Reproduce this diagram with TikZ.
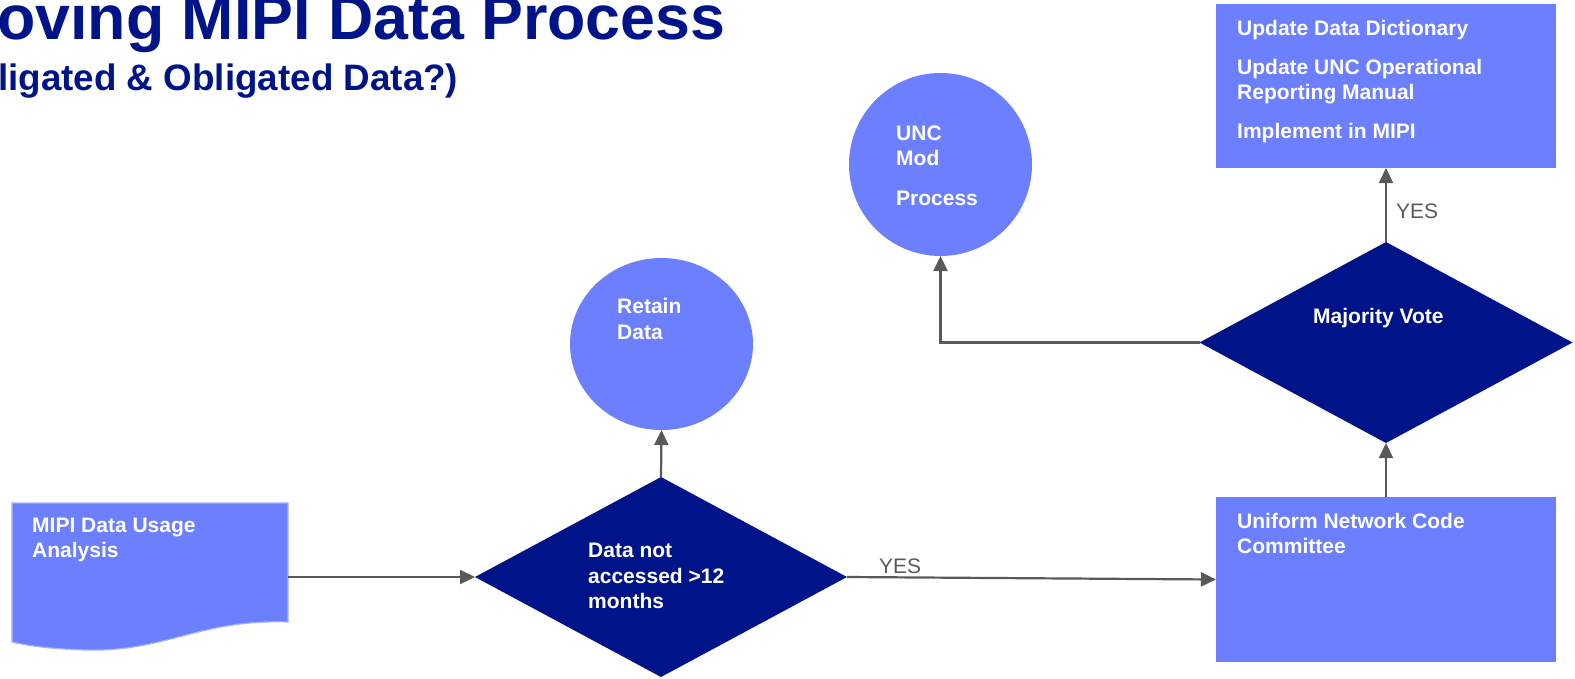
\documentclass[tikz,border=0pt]{standalone}
\usepackage{fontspec}
\setmainfont{Liberation Sans}
\usetikzlibrary{shapes.geometric,arrows.meta}
\definecolor{navy}{RGB}{0,20,137}
\definecolor{lblue}{RGB}{107,127,255}
\definecolor{lborder}{RGB}{165,178,255}
\definecolor{arrgray}{RGB}{89,89,89}
\begin{document}
\begin{tikzpicture}[x=1pt,y=-1pt,
  lbl/.style={anchor=base west, inner sep=0pt, text=white, font=\fontsize{21}{25}\selectfont\bfseries},
  yeslbl/.style={anchor=base west, inner sep=0pt, text=arrgray, font=\fontsize{21}{25}\selectfont},
  boxshape/.style={rectangle, fill=lblue, inner sep=0pt, outer sep=0pt},
  dshape/.style={diamond, fill=navy, inner sep=0pt, outer sep=0pt},
  cshape/.style={ellipse, fill=lblue, inner sep=0pt, outer sep=0pt},
  conn/.style={draw=arrgray, line width=2.2pt, -{Triangle[length=15pt,width=14pt]}},
  titlefont/.style={anchor=base west, inner sep=0pt, text=navy},
]
\useasboundingbox (0,0) rectangle (1575,678);

% title
\node[titlefont, font=\fontsize{62.7}{70}\selectfont\bfseries] (title1) at (-3,39) {oving MIPI Data Process};
\node[titlefont, font=\fontsize{36.8}{42}\selectfont\bfseries] (title2) at (-2,90) {ligated \& Obligated Data?)};

% document shape
\node[inner sep=0pt, outer sep=0pt, minimum width=276pt, minimum height=148pt] (doc) at (150,577) {};
\fill[lblue, draw=lborder, line width=1.2pt] (12,503) -- (288,503) -- (288,622)
  .. controls (200,619) and (165,652) .. (87,650)
  .. controls (50,649) and (30,646) .. (12,642) -- cycle;
\node[lbl] (docl1) at (32,532) {MIPI Data Usage};
\node[lbl] (docl2) at (32,557) {Analysis};

% decision 1
\node[dshape, minimum width=372pt, minimum height=200pt] (d1) at (661,577) {};
\node[lbl] (d1l1) at (588,557) {Data not};
\node[lbl] (d1l2) at (588,583) {accessed >12};
\node[lbl] (d1l3) at (588,608) {months};

% retain data
\node[cshape, minimum width=183pt, minimum height=172pt] (retain) at (661.5,344) {};
\node[lbl] (retl1) at (617,313) {Retain};
\node[lbl] (retl2) at (617,339) {Data};

% committee
\node[boxshape, minimum width=340pt, minimum height=165pt] (ucc) at (1386,579.5) {};
\node[lbl] (uccl1) at (1237,528) {Uniform Network Code};
\node[lbl] (uccl2) at (1237,553) {Committee};

% majority vote
\node[dshape, minimum width=373pt, minimum height=201pt] (mv) at (1386,342.5) {};
\node[lbl] (mvl) at (1313,323) {Majority Vote};

% UNC mod process
\node[cshape, minimum width=183pt, minimum height=183pt] (unc) at (940.5,164.5) {};
\node[lbl] (uncl1) at (896,140) {UNC};
\node[lbl] (uncl2) at (896,165) {Mod};
\node[lbl] (uncl3) at (896,205) {Process};

% update box
\node[boxshape, minimum width=340pt, minimum height=164pt] (upd) at (1386,86) {};
\node[lbl] (updl1) at (1237,35) {Update Data Dictionary};
\node[lbl] (updl2) at (1237,74) {Update UNC Operational};
\node[lbl] (updl3) at (1237,99) {Reporting Manual};
\node[lbl] (updl4) at (1237,138) {Implement in MIPI};

% connectors
\draw[conn] (doc.east) -- (d1.west);
\draw[conn] (d1.north) -- (retain.south);
\draw[conn] (d1.east) -- (ucc.west);
\draw[conn] (ucc.north) -- (mv.south);
\draw[conn] (mv.north) -- (upd.south);
\draw[conn] (mv.west) -| (unc.south);

\node[yeslbl] (yes1) at (879,573) {YES};
\node[yeslbl] (yes2) at (1396,218) {YES};
\end{tikzpicture}
\end{document}
